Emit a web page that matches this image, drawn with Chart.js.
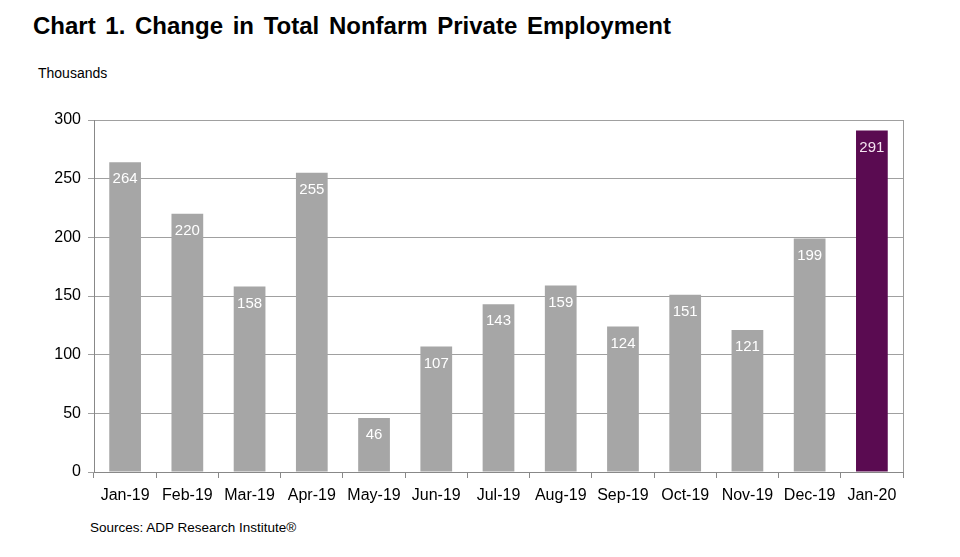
<!DOCTYPE html>
<html><head><meta charset="utf-8">
<script src="https://cdn.jsdelivr.net/npm/chart.js@4"></script>
<style>
html,body{margin:0;padding:0;background:#fff;}
#wrap{position:relative;width:960px;height:557px;overflow:hidden;font-family:"Liberation Sans",Arial,sans-serif;}
#title{position:absolute;left:33px;top:12px;font-size:24px;font-weight:bold;color:#000;white-space:nowrap;word-spacing:3px;}
#unit{position:absolute;left:38px;top:65px;font-size:14px;color:#000;}
#src{position:absolute;left:90px;top:520px;font-size:13.5px;color:#000;}
canvas{position:absolute;left:0;top:0;}
</style></head>
<body><div id="wrap">
<div id="title">Chart 1. Change in Total Nonfarm Private Employment</div>
<div id="unit">Thousands</div>
<div id="src">Sources: ADP Research Institute®</div>
<canvas id="c" width="960" height="557"></canvas>
</div>
<script>
const categories = ["Jan-19","Feb-19","Mar-19","Apr-19","May-19","Jun-19","Jul-19","Aug-19","Sep-19","Oct-19","Nov-19","Dec-19","Jan-20"];
const employmentChange = [264,220,158,255,46,107,143,159,124,151,121,199,291];
const yTicks = [0,50,100,150,200,250,300];
const grayColor = "#A6A6A6";
const highlightColor = "#5A0B51";
const barColors = categories.map((c,i)=> i===categories.length-1 ? highlightColor : grayColor);

const frame = {
  id:'frame',
  afterDatasetsDraw(chart){
    const a = chart.chartArea, ctx = chart.ctx;
    ctx.save();
    ctx.strokeStyle = '#9a9a9a';
    ctx.lineWidth = 1;
    ctx.beginPath();
    ctx.moveTo(Math.round(a.right)+0.5, a.top);
    ctx.lineTo(Math.round(a.right)+0.5, a.bottom);
    ctx.stroke();
    const meta = chart.getDatasetMeta(0);
    ctx.font = '15px "Liberation Sans", Arial, sans-serif';
    ctx.textAlign = 'center';
    ctx.textBaseline = 'middle';
    meta.data.forEach((bar,i)=>{
      ctx.fillStyle = i===categories.length-1 ? '#F4E4F0' : '#FFFFFF';
      ctx.fillText(String(employmentChange[i]), bar.x, bar.y + 17);
    });
    ctx.restore();
  }
};

new Chart(document.getElementById('c'), {
  type:'bar',
  data:{labels:categories, datasets:[{data:employmentChange, backgroundColor:barColors, borderWidth:0, barPercentage:0.51, categoryPercentage:1.0}]},
  options:{
    responsive:false, animation:false, devicePixelRatio:1,
    layout:{padding:{left:0,top:120,right:57,bottom:0}},
    plugins:{legend:{display:false}, tooltip:{enabled:false}, title:{display:false}},
    scales:{
      x:{
        offset:true,
        grid:{offset:true, drawOnChartArea:false, drawTicks:true, tickLength:6, color:'#888'},
        border:{color:'#888', width:1},
        ticks:{color:'#000', font:{family:'"Liberation Sans", Arial, sans-serif', size:16}, padding:8, maxRotation:0, autoSkip:false},
        afterFit(s){ s.height = 85; }
      },
      y:{
        min:0, max:300,
        afterBuildTicks(s){ s.ticks = yTicks.map(v=>({value:v})); },
        grid:{color:'#a0a0a0', tickLength:6, drawTicks:true},
        border:{color:'#888', width:1},
        ticks:{color:'#000', font:{family:'"Liberation Sans", Arial, sans-serif', size:16}, padding:7},
        afterFit(s){ s.width = 94; }
      }
    }
  },
  plugins:[frame]
});
</script>
</body></html>
